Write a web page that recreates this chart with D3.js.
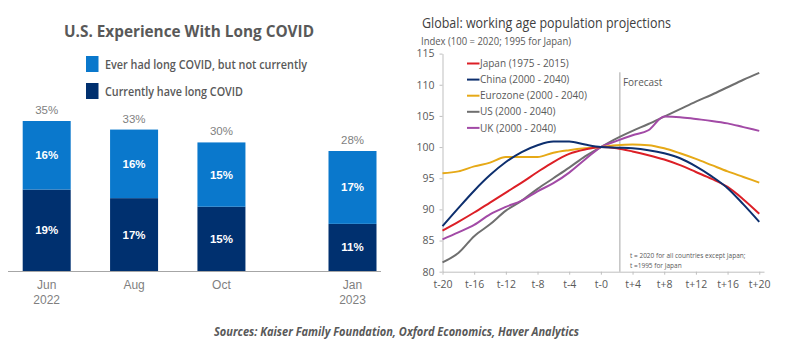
<!DOCTYPE html>
<html>
<head>
<meta charset="utf-8">
<script src="https://cdn.jsdelivr.net/npm/d3@7"></script>
<style>
body { margin: 0; background: #fff; }
svg text { font-family: "Open Sans", "Noto Sans", sans-serif; }
</style>
</head>
<body>
<div class="chart"></div>
<script>
// left chart data
var surveyMonths = ["Jun", "Aug", "Oct", "Jan"]
var surveyYears = ["2022", "", "", "2023"]
var monthIndex = [0, 2, 4, 7]
var currently = [19, 17, 15, 11]
var everHad = [16, 16, 15, 17]
var totals = [35, 33, 30, 28]

// right chart data
var tYears = [-20,-18,-16,-14,-12,-10,-8,-6,-4,-2,0,2,4,6,8,10,12,14,16,18,20]
var japan = [86.6,88.0,89.5,91.1,92.7,94.3,96.0,97.6,98.9,99.6,100.0,99.8,99.3,98.7,98.0,97.1,96.0,94.9,93.6,91.6,89.3]
var china = [87.3,90.2,93.0,95.5,97.6,99.2,100.3,100.9,100.9,100.4,100.0,99.9,99.8,99.5,99.0,98.2,96.9,95.3,93.4,90.8,88.0]
var eurozone = [95.8,96.1,96.9,97.5,98.4,98.4,98.4,99.1,99.5,99.8,100.0,100.3,100.4,100.3,99.8,99.0,98.1,97.1,96.1,95.2,94.3]
var us = [81.5,83.0,85.7,87.6,89.8,91.4,93.3,95.0,96.7,98.5,100.0,101.4,102.6,103.7,104.9,106.1,107.3,108.4,109.6,110.8,111.9]
var uk = [85.2,86.3,87.5,89.2,90.4,91.4,92.9,94.2,95.9,98.0,100.0,101.0,101.9,102.7,104.9,104.8,104.5,104.2,103.8,103.2,102.6]
var seriesNames = ["Japan (1975 - 2015)","China (2000 - 2040)","Eurozone (2000 - 2040)","US (2000 - 2040)","UK (2000 - 2040)"]
var yTicks = [80,85,90,95,100,105,110,115]
var xTicks = [-20,-16,-12,-8,-4,0,4,8,12,16,20]

var width = 800, height = 351
var svg = d3.select(".chart").append("svg").attr("width",width).attr("height",height)

var lightBlue = "#0a78cc", navy = "#00306f", grey = "#595959"

//---------- left chart
var left = svg.append("g")
left.append("text").attr("x",64).attr("y",37).attr("fill",grey)
	.style("font-size","16px").style("font-weight",700)
	.attr("textLength",250).attr("lengthAdjust","spacingAndGlyphs")
	.text("U.S. Experience With Long COVID")

var legendLeft = [["Ever had long COVID, but not currently", lightBlue, 202], ["Currently have long COVID", navy, 138]]
legendLeft.forEach(function(d,i){
	left.append("rect").attr("x",86).attr("y",56+i*27).attr("width",12.5).attr("height",16).attr("fill",d[1])
	left.append("text").attr("x",105).attr("y",68.5+i*27).attr("fill",grey)
		.style("font-size","12px").style("font-weight",600)
		.attr("textLength",d[2]).attr("lengthAdjust","spacingAndGlyphs")
		.text(d[0])
})

var xBar = d3.scaleLinear().domain([0,7]).range([46.7,352.5])
var yBar = d3.scaleLinear().domain([0,35]).range([271,121])
var barW = 48

var bars = left.append("g").selectAll("g").data(monthIndex).enter().append("g")
bars.append("rect")
	.attr("x",function(d){return xBar(d)-barW/2})
	.attr("y",function(d,i){return yBar(currently[i])})
	.attr("width",barW)
	.attr("height",function(d,i){return yBar(0)-yBar(currently[i])})
	.attr("fill",navy)
bars.append("rect")
	.attr("x",function(d){return xBar(d)-barW/2})
	.attr("y",function(d,i){return yBar(currently[i]+everHad[i])})
	.attr("width",barW)
	.attr("height",function(d,i){return yBar(currently[i])-yBar(currently[i]+everHad[i])})
	.attr("fill",lightBlue)

var labelFont = '"Liberation Sans Narrow", "Liberation Sans", Arial, sans-serif'
bars.append("text").attr("text-anchor","middle")
	.attr("x",function(d){return xBar(d)})
	.attr("y",function(d,i){return (yBar(0)+yBar(currently[i]))/2+4})
	.attr("fill","#fff").style("font-family",labelFont).style("font-size","11.5px").style("font-weight",700)
	.text(function(d,i){return currently[i]+"%"})
bars.append("text").attr("text-anchor","middle")
	.attr("x",function(d){return xBar(d)})
	.attr("y",function(d,i){return (yBar(currently[i])+yBar(currently[i]+everHad[i]))/2+4})
	.attr("fill","#fff").style("font-family",labelFont).style("font-size","11.5px").style("font-weight",700)
	.text(function(d,i){return everHad[i]+"%"})
bars.append("text").attr("text-anchor","middle")
	.attr("x",function(d){return xBar(d)})
	.attr("y",function(d,i){return yBar(totals[i])-7})
	.attr("fill","#7f7f7f").style("font-family",labelFont).style("font-size","11.5px")
	.text(function(d,i){return totals[i]+"%"})
bars.append("text").attr("text-anchor","middle")
	.attr("x",function(d){return xBar(d)})
	.attr("y",289)
	.attr("fill","#7f7f7f").style("font-family",labelFont).style("font-size","12px")
	.text(function(d,i){return surveyMonths[i]})
bars.append("text").attr("text-anchor","middle")
	.attr("x",function(d){return xBar(d)})
	.attr("y",304)
	.attr("fill","#7f7f7f").style("font-family",labelFont).style("font-size","12px")
	.text(function(d,i){return surveyYears[i]})

left.append("line").attr("x1",8).attr("x2",381).attr("y1",yBar(0)+0.5).attr("y2",yBar(0)+0.5)
	.attr("stroke","#a6a6a6").attr("stroke-width",1)

//---------- right chart
var right = svg.append("g")
right.append("text").attr("x",422).attr("y",28).attr("fill","#404040")
	.style("font-size","14.5px")
	.attr("textLength",249).attr("lengthAdjust","spacingAndGlyphs")
	.text("Global: working age population projections")
right.append("text").attr("x",421).attr("y",44.5).attr("fill",grey)
	.style("font-size","10px")
	.attr("textLength",150).attr("lengthAdjust","spacingAndGlyphs")
	.text("Index (100 = 2020; 1995 for Japan)")

var xPos = d3.scaleLinear().domain([-20,20.6]).range([442.5,764])
var yPos = d3.scaleLinear().domain([80,115]).range([271.7,53.6])

var yAxis = right.append("g").attr("transform","translate(442.5,0)")
	.call(d3.axisLeft(yPos).tickValues(yTicks).tickSize(3).tickSizeOuter(0).tickPadding(5))
var xAxis = right.append("g").attr("transform","translate(0,271.7)")
	.call(d3.axisBottom(xPos).tickValues(xTicks).tickSize(3).tickSizeOuter(0).tickPadding(6)
		.tickFormat(function(d){return d > 0 ? "t+"+d : "t-"+Math.abs(d)}))
;[yAxis, xAxis].forEach(function(a){
	a.selectAll("path,line").attr("stroke","#bfbfbf")
	a.selectAll("text").attr("fill",grey).style("font-family",'"Open Sans", "Noto Sans", sans-serif').style("font-size","10.5px")
})

// forecast marker
right.append("line").attr("x1",xPos(2.4)).attr("x2",xPos(2.4)).attr("y1",yPos(112)).attr("y2",yPos(80))
	.attr("stroke","#a6a6a6").attr("stroke-width",1)
right.append("text").attr("x",xPos(2.4)+3).attr("y",85.5).attr("fill",grey).style("font-size","10px").text("Forecast")
right.append("text").attr("x",630).attr("y",258).attr("fill",grey).style("font-size","6.5px").text("t = 2020 for all countries except Japan;")
right.append("text").attr("x",630).attr("y",267.5).attr("fill",grey).style("font-size","6.5px").text("t =1995 for Japan")

var allSeries = [japan, china, eurozone, us, uk]
var colors = ["#dc1f26", "#0d2f6e", "#e6a917", "#6f6f6f", "#a24aa6"]
var line = d3.line().x(function(d,i){return xPos(tYears[i])}).y(function(d){return yPos(d)}).curve(d3.curveMonotoneX)

// draw order: US under, then UK, Eurozone, Japan, China on top
var drawOrder = [3, 4, 2, 0, 1]
drawOrder.forEach(function(k){
	right.append("path").datum(allSeries[k]).attr("d",line)
		.attr("fill","none").attr("stroke",colors[k]).attr("stroke-width",2)
})

// legend
seriesNames.forEach(function(name,i){
	var y = 63.5 + i*16.1
	right.append("line").attr("x1",467).attr("x2",479.5).attr("y1",y).attr("y2",y)
		.attr("stroke",colors[i]).attr("stroke-width",2)
	right.append("text").attr("x",480).attr("y",y+3.6).attr("fill",grey).style("font-size","10px").text(name)
})

// sources
svg.append("text").attr("x",214).attr("y",336).attr("fill",grey)
	.style("font-size","12px").style("font-weight",700).style("font-style","italic")
	.attr("textLength",365).attr("lengthAdjust","spacingAndGlyphs")
	.text("Sources: Kaiser Family Foundation, Oxford Economics, Haver Analytics")
</script>
</body>
</html>
